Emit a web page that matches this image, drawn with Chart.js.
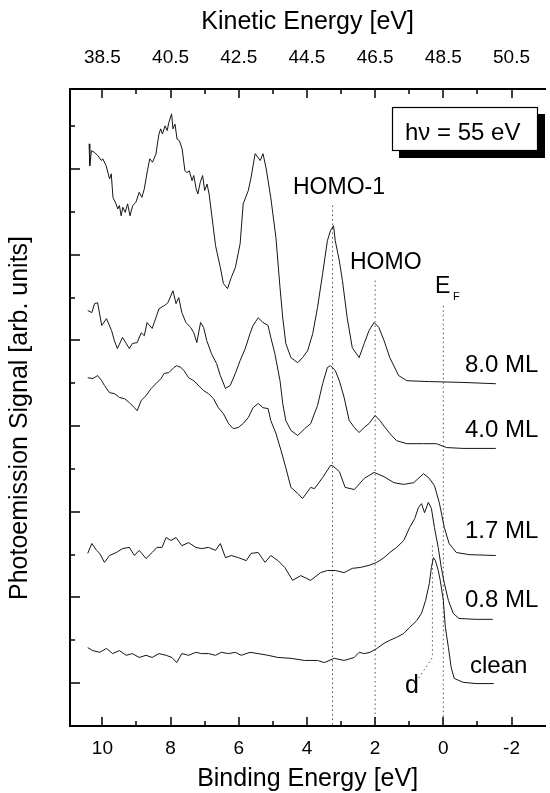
<!DOCTYPE html>
<html>
<head>
<meta charset="utf-8">
<script src="https://cdn.jsdelivr.net/npm/chart.js@4"></script>
<style>
html,body{margin:0;padding:0;background:#fff;overflow:hidden;}
canvas{display:block;}
</style>
</head>
<body>
<canvas id="c" width="550" height="793"></canvas>
<script>
// ---------- data (binding energy in eV, signal in arb. units) ----------
const be80 = [10.39,10.37,10.32,10.23,10.13,10.03,9.99,9.89,9.79,9.74,9.69,9.60,9.55,9.50,9.45,9.40,9.33,9.26,9.19,9.11,9.02,8.92,8.84,8.77,8.68,8.61,8.53,8.43,8.34,8.29,8.24,8.16,8.10,8.05,7.97,7.93,7.87,7.81,7.74,7.66,7.58,7.52,7.45,7.37,7.32,7.25,7.20,7.13,7.06,7.00,6.93,6.87,6.79,
              6.68,6.54,6.45,6.33,6.22,6.10,5.96,5.87,5.72,5.64,5.52,5.37,5.29,5.20,5.06,4.91,4.79,4.71,4.62,4.47,4.27,4.13,3.98,3.83,3.69,3.54,3.40,3.31,3.22,3.17,3.05,2.96,2.82,2.67,2.47,2.32,2.18,2.03,1.89,1.74,1.57,1.31,1.07,0.41,-0.58,-1.54];
const s80  = [13.59,13.08,13.43,13.39,13.31,13.20,13.24,13.08,12.77,12.89,12.34,12.19,12.07,12.15,11.91,12.11,11.99,12.19,11.91,12.15,12.22,12.46,12.34,12.54,12.96,13.24,13.16,13.35,13.82,13.94,13.82,14.01,13.90,14.09,14.29,13.94,14.05,13.70,13.66,13.47,12.96,12.92,12.96,12.73,12.85,12.54,12.42,12.69,12.85,12.50,12.65,12.42,11.91,
              11.21,10.70,10.33,10.21,10.47,10.70,11.26,12.19,12.50,12.80,13.36,13.20,13.36,13.03,12.33,11.40,10.23,9.53,8.93,8.60,8.48,8.60,8.76,9.16,9.77,10.56,11.33,11.56,11.68,11.33,10.86,10.40,9.53,8.83,8.60,8.93,9.23,9.42,9.30,9.00,8.60,8.18,8.06,8.04,8.02,7.99];

const be40 = [10.43,10.31,10.23,10.14,10.02,9.88,9.73,9.65,9.56,9.41,9.30,9.21,9.12,8.98,8.86,8.77,8.69,8.54,8.43,8.34,8.19,8.08,7.93,7.84,7.76,7.67,7.55,7.41,7.32,7.23,7.12,7.03,6.94,6.80,6.65,6.54,6.39,6.25,6.10,5.96,5.81,5.67,5.58,5.43,5.29,5.14,5.06,4.94,4.79,4.71,4.62,4.47,4.27,4.07,3.89,3.69,3.54,3.40,3.31,3.17,3.05,2.91,2.76,2.61,2.47,2.32,2.18,2.00,1.86,1.71,1.57,1.37,1.07,0.58,0.20,-0.09,-0.58,-1.54];
const s40  = [9.70,9.65,9.86,9.88,9.35,9.51,9.23,9.00,8.81,9.07,8.93,8.81,8.93,8.95,9.18,9.11,9.42,9.28,9.53,9.74,9.81,9.88,10.16,9.86,10.00,9.65,9.42,9.30,9.18,8.95,9.42,9.30,9.00,8.69,8.46,8.18,7.88,7.95,8.23,8.53,8.81,9.16,9.35,9.53,9.42,9.35,9.07,8.69,8.06,7.53,7.13,6.90,6.78,6.94,7.06,7.48,7.99,8.37,8.41,8.30,8.06,7.67,7.13,6.97,6.85,6.97,7.06,7.25,7.13,6.97,6.83,6.66,6.59,6.59,6.59,6.50,6.48,6.48];

const be17 = [10.43,10.28,10.14,10.02,9.94,9.79,9.65,9.50,9.35,9.21,9.06,8.98,8.86,8.72,8.57,8.43,8.28,8.19,8.05,7.90,7.82,7.70,7.61,7.47,7.32,7.18,7.03,6.89,6.74,6.60,6.45,6.30,6.16,6.01,5.87,5.72,5.58,5.43,5.29,5.14,5.06,4.91,4.76,4.62,4.47,4.27,4.13,3.89,3.78,3.54,3.31,3.25,3.05,2.88,2.61,2.32,2.03,1.74,1.45,1.16,0.87,0.58,0.41,0.26,0.12,-0.03,-0.17,-0.38,-0.76,-1.54];
const s17  = [8.13,8.11,8.18,8.06,7.95,7.78,7.76,7.67,7.64,7.55,7.43,7.36,7.60,7.71,7.88,7.99,8.11,8.23,8.25,8.37,8.41,8.37,8.30,8.13,8.06,7.95,7.83,7.76,7.64,7.43,7.29,7.06,6.94,6.97,7.06,7.20,7.43,7.53,7.43,7.41,7.13,6.83,6.43,6.03,5.57,5.43,5.31,5.57,5.54,5.80,6.08,6.08,5.94,5.57,5.52,5.78,5.92,5.82,5.68,5.64,5.68,5.89,5.78,5.61,5.22,4.63,4.26,4.05,4.00,3.98];

const be08 = [10.43,10.31,10.17,10.08,9.94,9.79,9.59,9.41,9.21,9.06,8.92,8.72,8.54,8.40,8.25,8.13,7.99,7.84,7.67,7.47,7.26,7.09,6.89,6.68,6.54,6.39,6.22,6.01,5.78,5.64,5.43,5.23,5.06,4.85,4.65,4.42,4.18,3.89,3.60,3.40,3.17,2.91,2.67,2.44,2.18,1.95,1.74,1.57,1.37,1.16,0.99,0.84,0.73,0.64,0.55,0.44,0.35,0.26,0.15,0.06,-0.03,-0.15,-0.29,-0.46,-0.96,-1.45];
const s08  = [4.03,4.26,4.10,4.03,3.82,3.98,4.05,4.14,4.17,3.98,4.10,3.91,4.05,4.17,4.17,4.40,4.33,4.40,4.21,4.28,4.17,4.14,4.17,4.10,4.26,3.93,3.98,3.93,3.86,4.03,4.05,3.82,3.98,3.86,3.70,3.40,3.51,3.40,3.58,3.63,3.63,3.58,3.68,3.70,3.75,3.82,3.93,4.05,4.17,4.33,4.63,4.84,5.10,5.19,4.98,5.22,5.08,4.63,4.17,3.70,3.33,2.93,2.63,2.51,2.49,2.49];

const be00 = [10.43,10.28,10.08,9.88,9.70,9.50,9.30,9.12,8.92,8.72,8.54,8.34,8.13,7.96,7.82,7.67,7.47,7.26,7.09,6.89,6.68,6.51,6.30,6.10,5.93,5.67,5.43,5.14,4.85,4.47,4.07,3.69,3.49,3.20,2.91,2.61,2.47,2.32,2.15,1.95,1.74,1.57,1.37,1.16,0.99,0.78,0.64,0.52,0.41,0.35,0.29,0.23,0.15,0.09,0.00,-0.06,-0.15,-0.23,-0.32,-0.58,-0.96,-1.48];
const s00  = [1.83,1.76,1.72,1.81,1.69,1.76,1.65,1.69,1.60,1.65,1.60,1.69,1.65,1.60,1.48,1.69,1.65,1.72,1.69,1.69,1.65,1.72,1.69,1.72,1.65,1.72,1.69,1.65,1.60,1.58,1.53,1.53,1.48,1.58,1.53,1.60,1.72,1.69,1.72,1.81,1.93,2.00,2.07,2.16,2.30,2.46,2.63,2.93,3.33,3.70,3.93,3.86,3.63,3.40,2.93,2.30,1.83,1.37,1.11,1.02,0.99,0.99];

const curveNames = ['8.0 ML','4.0 ML','1.7 ML','0.8 ML','clean'];

// marker lines: HOMO-1, HOMO, E_F
const markerNames = ['HOMO-1','HOMO','E_F'];
const markerBE  = [3.25, 2.0, 0.0];
const markerTop = [12.15, 10.40, 9.81];
// d-band marker (leader)
const dLineBE  = [0.32, 0.32, 0.73];
const dLineSig = [4.21, 1.60, 1.11];

// ticks
const beMajor = [10,8,6,4,2,0,-2];
const beMinor = [9,7,5,3,1,-1];
const keMajor = [38.5,40.5,42.5,44.5,46.5,48.5,50.5];
const keMinor = [39.5,41.5,43.5,45.5,47.5,49.5];
const yMajor = [1,3,5,7,9,11,13];
const yMinor = [2,4,6,8,10,12,14];
const photonEnergyLabel = 'h\u03bd = 55 eV';

// ---------- chart ----------
const FONT = "'Liberation Sans', Arial, Helvetica, sans-serif";
const pts = (xs, ys) => xs.map((v, i) => ({x: v, y: ys[i]}));
const curveStyle = {borderColor:'#151515', borderWidth:1, pointRadius:0, tension:0, fill:false};
const dotStyle = {borderColor:'#555', borderWidth:1, pointRadius:0, tension:0, fill:false, borderDash:[1.5,3]};

const datasets = [
  Object.assign({label:curveNames[0], data:pts(be80,s80)}, curveStyle),
  Object.assign({label:curveNames[1], data:pts(be40,s40)}, curveStyle),
  Object.assign({label:curveNames[2], data:pts(be17,s17)}, curveStyle),
  Object.assign({label:curveNames[3], data:pts(be08,s08)}, curveStyle),
  Object.assign({label:curveNames[4], data:pts(be00,s00)}, curveStyle),
];
markerBE.forEach((b, i) => {
  datasets.push(Object.assign({label:markerNames[i], data:[{x:b,y:markerTop[i]},{x:b,y:0}]}, dotStyle));
});
datasets.push(Object.assign({label:'d', data:pts(dLineBE,dLineSig)}, dotStyle));

const KE_OFFSET = 48.5; // KE = 48.5 - BE
const BE_MIN = -2.99, BE_MAX = 10.95;

const decor = {
  id:'decor',
  afterDraw(chart){
    const ctx = chart.ctx;
    const a = chart.chartArea;
    const sx = chart.scales.x, sx2 = chart.scales.x2, sy = chart.scales.y;
    ctx.save();
    ctx.strokeStyle = '#000';
    ctx.lineWidth = 1.5;
    const vt = (px, y0, len) => { ctx.beginPath(); ctx.moveTo(px, y0); ctx.lineTo(px, y0 + len); ctx.stroke(); };
    const ht = (py, x0, len) => { ctx.beginPath(); ctx.moveTo(x0, py); ctx.lineTo(x0 + len, py); ctx.stroke(); };
    beMajor.forEach(v => vt(Math.round(sx.getPixelForValue(v)) , a.bottom, -9));
    beMinor.forEach(v => vt(Math.round(sx.getPixelForValue(v)) , a.bottom, -5));
    keMajor.forEach(v => vt(Math.round(sx2.getPixelForValue(v)), a.top, 9));
    keMinor.forEach(v => vt(Math.round(sx2.getPixelForValue(v)), a.top, 5));
    yMajor.forEach(v => ht(Math.round(sy.getPixelForValue(v)), a.left, 10));
    yMinor.forEach(v => ht(Math.round(sy.getPixelForValue(v)), a.left, 5));

    // y-axis title
    ctx.fillStyle = '#000';
    ctx.save();
    ctx.translate(20, 418);
    ctx.rotate(-Math.PI/2);
    ctx.textAlign = 'center';
    ctx.textBaseline = 'middle';
    ctx.font = `25px ${FONT}`;
    ctx.fillText('Photoemission Signal [arb. units]', 0, 0);
    ctx.restore();

    // photon energy box with shadow
    ctx.fillStyle = '#000';
    ctx.fillRect(399, 114, 146, 44);
    ctx.fillStyle = '#fff';
    ctx.fillRect(392, 107, 145, 43);
    ctx.lineWidth = 1.2;
    ctx.strokeRect(392.5, 107.5, 145, 43);
    ctx.fillStyle = '#000';
    ctx.textAlign = 'left';
    ctx.textBaseline = 'alphabetic';
    ctx.font = `24px ${FONT}`;
    ctx.fillText(photonEnergyLabel, 405, 140);

    // peak labels
    ctx.font = `23px ${FONT}`;
    ctx.fillText('HOMO-1', 293, 194);
    ctx.fillText('HOMO', 350, 269);
    ctx.font = `23px ${FONT}`;
    ctx.fillText('E', 435, 293);
    ctx.font = `11px ${FONT}`;
    ctx.fillText('F', 453, 300);
    ctx.font = `25px ${FONT}`;
    ctx.fillText('d', 405, 693);

    // curve labels
    ctx.font = `24px ${FONT}`;
    const lx = [465, 465, 465, 465, 470];
    const ly = [372, 437, 538, 607, 673];
    curveNames.forEach((t, i) => ctx.fillText(t, lx[i], ly[i]));
    ctx.restore();
  }
};

new Chart(document.getElementById('c'), {
  type:'line',
  data:{datasets},
  options:{
    responsive:false,
    devicePixelRatio:1,
    animation:false,
    plugins:{legend:{display:false}, tooltip:{enabled:false}},
    layout:{padding:0},
    scales:{
      x:{
        type:'linear', position:'bottom', reverse:true, min:BE_MIN, max:BE_MAX,
        afterBuildTicks:s => { s.ticks = beMajor.map(v => ({value:v})); },
        afterFit:s => { s.height = 67; },
        grid:{display:false, drawTicks:false},
        border:{display:true, color:'#000', width:2},
        ticks:{color:'#000', font:{family:FONT, size:19}, padding:11, maxRotation:0, autoSkip:false},
        title:{display:true, text:'Binding Energy [eV]', color:'#000', font:{family:FONT, size:25, lineHeight:1}, padding:{top:0, bottom:1}}
      },
      x2:{
        type:'linear', position:'top', min:KE_OFFSET - BE_MAX, max:KE_OFFSET - BE_MIN,
        afterBuildTicks:s => { s.ticks = keMajor.map(v => ({value:v})); },
        afterFit:s => { s.height = 89; },
        grid:{display:false, drawTicks:false},
        border:{display:true, color:'#000', width:2},
        ticks:{color:'#000', font:{family:FONT, size:19}, padding:20, maxRotation:0, autoSkip:false,
               callback:v => v.toFixed(1)},
        title:{display:true, text:'Kinetic Energy [eV]', color:'#000', font:{family:FONT, size:25, lineHeight:1}, padding:{top:10, bottom:0}}
      },
      y:{
        type:'linear', position:'left', min:0, max:14.87,
        afterFit:s => { s.width = 70; },
        grid:{display:false, drawTicks:false},
        border:{display:true, color:'#000', width:2},
        ticks:{display:false}
      }
    }
  },
  plugins:[decor]
});
</script>
</body>
</html>
